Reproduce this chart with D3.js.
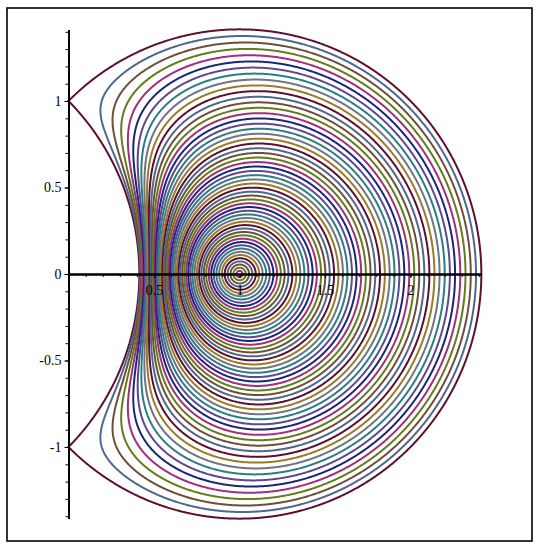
<!DOCTYPE html>
<html>
<head>
<meta charset="utf-8">
<script src="https://cdn.jsdelivr.net/npm/d3@7"></script>
<style>
  body { margin: 0; background: #fff; }
</style>
</head>
<body>
<div id="chart"></div>
<script>
// contour levels of |z - 1/z| (inner -> outer), read from the ring spacing
const levels = [0.0364, 0.0727, 0.1091, 0.1455, 0.1818, 0.2182, 0.2545, 0.2909, 0.3273, 0.3636,
  0.4, 0.4364, 0.4727, 0.5091, 0.5455, 0.5818, 0.6182, 0.6545, 0.6909, 0.7273,
  0.7636, 0.8, 0.8364, 0.8727, 0.9091, 0.9455, 0.9818, 1.0182, 1.0545, 1.0909,
  1.1273, 1.1636, 1.2, 1.2364, 1.2727, 1.3091, 1.3455, 1.3818, 1.4182, 1.4545,
  1.4909, 1.5273, 1.5636, 1.6, 1.6364, 1.6727, 1.7091, 1.7455, 1.7818, 1.8182,
  1.8545, 1.8909, 1.9273, 1.9636, 2.0];

// colour cycle, starting from the outermost curve
const curveColors = ["#5e0f30", "#4d6890", "#6e5038", "#627d1c", "#a02f7c",
  "#1a2778", "#5e4890", "#2a7f80", "#6f7585", "#9a7c28"];

const xTickLabels = [0.5, 1, 1.5, 2];
const yTickLabels = [-1, -0.5, 0, 0.5, 1];
const xMinorTicks = [0.1, 0.2, 0.3, 0.4, 0.5, 0.6, 0.7, 0.8, 0.9, 1, 1.1, 1.2, 1.3, 1.4,
  1.5, 1.6, 1.7, 1.8, 1.9, 2, 2.1, 2.2, 2.3, 2.4];
const yMinorTicks = [-1.4, -1.3, -1.2, -1.1, -1, -0.9, -0.8, -0.7, -0.6, -0.5, -0.4, -0.3, -0.2, -0.1,
  0, 0.1, 0.2, 0.3, 0.4, 0.5, 0.6, 0.7, 0.8, 0.9, 1, 1.1, 1.2, 1.3, 1.4];
const xDomain = [0, 2.414];
const yDomain = [-1.414, 1.414];

const width = 540, height = 550;
const labelFont = "'Liberation Serif', 'Times New Roman', serif";

const svg = d3.select("#chart")
    .append("svg")
    .attr("width", width)
    .attr("height", height);

// frame
svg.append("rect")
    .attr("x", 7).attr("y", 8)
    .attr("width", 525).attr("height", 533)
    .attr("fill", "none")
    .attr("stroke", "#000")
    .attr("stroke-width", 1.6);

const x = d3.scaleLinear().domain(xDomain).range([68.5, 481.3]);
const y = d3.scaleLinear().domain(yDomain).range([518.6, 29.4]);

// sample the field on a grid (negated so each contour is the inside blob)
const step = 0.005, gx0 = 0, gy0 = -1.5;
const nx = Math.round(2.5 / step) + 1, ny = Math.round(3 / step) + 1;
const values = new Float64Array(nx * ny);
for (let j = 0; j < ny; j++) {
    const zy = gy0 + j * step;
    for (let i = 0; i < nx; i++) {
        const zx = gx0 + i * step;
        const r2 = zx * zx + zy * zy;
        let f = 50;
        if (r2 > 0) {
            const fx = zx - zx / r2, fy = zy + zy / r2;
            f = Math.min(Math.hypot(fx, fy), 50);
        }
        values[j * nx + i] = -f;
    }
}

const contours = d3.contours()
    .size([nx, ny])
    .thresholds(levels.map(c => -c))(values);

const proj = d3.geoTransform({
    point: function (px, py) {
        this.stream.point(x(gx0 + (px - 0.5) * step), y(gy0 + (py - 0.5) * step));
    }
});
const path = d3.geoPath(proj);

// colour by position counted from the outermost level
const colorOf = d => {
    const k = levels.length - 1 - d3.minIndex(levels, c => Math.abs(c + d.value));
    return curveColors[k % curveColors.length];
};

svg.append("g")
    .selectAll("path")
    .data(contours)
    .enter()
    .append("path")
    .attr("d", path)
    .attr("fill", "none")
    .attr("stroke", colorOf)
    .attr("stroke-width", 2)
    .attr("stroke-linejoin", "round");

// x axis
const gx = svg.append("g").attr("transform", `translate(0,${y(0)})`);
gx.call(d3.axisBottom(x).tickValues(xMinorTicks).tickFormat("").tickSizeInner(3).tickSizeOuter(0));
gx.append("g").call(d3.axisBottom(x).tickValues(xTickLabels).tickFormat(d => String(d))
    .tickSizeInner(4).tickSizeOuter(0).tickPadding(7));

// y axis
const gy = svg.append("g").attr("transform", `translate(${x(0)},0)`);
gy.call(d3.axisLeft(y).tickValues(yMinorTicks).tickFormat("").tickSizeInner(3).tickSizeOuter(0));
gy.append("g").call(d3.axisLeft(y).tickValues(yTickLabels).tickFormat(d => String(d))
    .tickSizeInner(4).tickSizeOuter(0).tickPadding(3));

svg.selectAll("g").attr("font-family", labelFont).attr("font-size", 14);
svg.selectAll(".domain").attr("stroke", "#000").attr("stroke-width", 1.8);
svg.selectAll(".tick line").attr("stroke", "#000");
svg.selectAll(".tick text").attr("fill", "#000");
</script>
</body>
</html>
